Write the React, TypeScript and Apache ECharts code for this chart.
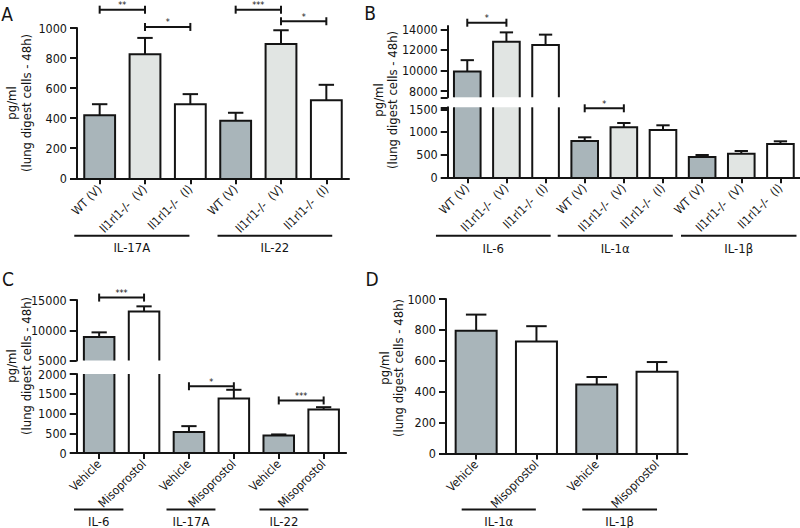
import React, { useEffect, useRef } from 'react';
import * as echarts from 'echarts';

const FONT = "'Liberation Sans Narrow', 'Arial Narrow', 'DejaVu Sans Condensed', 'Liberation Sans', Arial, sans-serif";
const INK = '#141414';
const DARK = '#a9b5ba';
const LIGHT = '#e1e5e3';
const WHITE = '#ffffff';

// ---------- DATA ----------
const genotypeCats = ['WT (V)', 'Il1rl1-/-  (V)', 'Il1rl1-/-  (I)'];
const treatCats = ['Vehicle', 'Misoprostol'];

// Panel A
const aCategories = [...genotypeCats, ...genotypeCats];
const aValues = [420, 825, 493, 383, 894, 520];
const aErrors = [493, 934, 560, 436, 985, 622];
const aTicks = [0, 200, 400, 600, 800, 1000];
const aBrackets = [[0, 1, 1122], [1, 2, 1007], [3, 4, 1122], [4, 5, 1045]];
const aStars = ['**', '*', '***', '*'];
const aGroups = ['IL-17A', 'IL-22'];

// Panel B
const bCategories = [...genotypeCats, ...genotypeCats, ...genotypeCats];
const bValues = [9900, 12800, 12480, 801, 1103, 1043, 448, 521, 735];
const bErrors = [11000, 13700, 13480, 882, 1198, 1147, 492, 580, 794];
const bUpperTicks = [8000, 10000, 12000, 14000];
const bLowerTicks = [0, 500, 1000, 1500];
const bBrackets = [[0, 1, 14640], [3, 4, 1522]];
const bStars = ['*', '*'];
const bGroups = ['IL-6', 'IL-1α', 'IL-1β'];

// Panel C
const cCategories = [...treatCats, ...treatCats, ...treatCats];
const cValues = [8900, 13100, 530, 1380, 440, 1100];
const cErrors = [9650, 13950, 680, 1600, 470, 1160];
const cUpperTicks = [5000, 10000, 15000];
const cLowerTicks = [0, 500, 1000, 1500, 2000];
const cBrackets = [[0, 1, 15400], [2, 3, 1690], [4, 5, 1330]];
const cStars = ['***', '*', '***'];
const cGroups = ['IL-6', 'IL-17A', 'IL-22'];

// Panel D
const dCategories = [...treatCats, ...treatCats];
const dValues = [795, 725, 447, 529];
const dErrors = [899, 824, 495, 592];
const dTicks = [0, 200, 400, 600, 800, 1000];
const dGroups = ['IL-1α', 'IL-1β'];

// ---------- LAYOUT / STYLE ----------
const genotypeFill = [DARK, LIGHT, WHITE];
const treatFill = [DARK, WHITE];
const BAR_RATIO = 0.68;
const CAP_RATIO = 0.17;

type Seg = { top: number; height: number; min: number; max: number; ticks: number[]; labels: number[] };
type Panel = {
  left: number; width: number; cats: string[]; fills: string[];
  vals: number[]; errs: number[]; segs: Seg[];
  brackets: number[][]; stars: string[];
  groups: string[]; groupSpans: number[][]; groupLineOff: number; groupTextOff: number;
};

const panels: Panel[] = [
  {
    left: 77, width: 272, cats: aCategories,
    fills: aCategories.map((_, i) => genotypeFill[i % 3]),
    vals: aValues, errs: aErrors,
    segs: [{ top: 28, height: 150.3, min: 0, max: 1000, ticks: aTicks, labels: aTicks }],
    brackets: aBrackets, stars: aStars,
    groups: aGroups, groupSpans: [[-0.56, 1.98], [2.6, 5.13]], groupLineOff: 57.5, groupTextOff: 69.5,
  },
  {
    left: 447.7, width: 352.3, cats: bCategories,
    fills: bCategories.map((_, i) => genotypeFill[i % 3]),
    vals: bValues, errs: bErrors,
    segs: [
      { top: 26, height: 71.3, min: 7390, max: 14320, ticks: [7390, ...bUpperTicks], labels: bUpperTicks },
      { top: 107.3, height: 70, min: 0, max: 1544, ticks: [...bLowerTicks, 1544], labels: bLowerTicks },
    ],
    brackets: bBrackets, stars: bStars,
    groups: bGroups, groupSpans: [[-0.8, 2.13], [2.31, 5.25], [5.46, 8.41]], groupLineOff: 58.5, groupTextOff: 71,
  },
  {
    left: 76.7, width: 269.4, cats: cCategories,
    fills: cCategories.map((_, i) => treatFill[i % 2]),
    vals: cValues, errs: cErrors,
    segs: [
      { top: 300, height: 60.5, min: 5000, max: 15000, ticks: cUpperTicks, labels: cUpperTicks },
      { top: 374, height: 79, min: 0, max: 2000, ticks: cLowerTicks, labels: cLowerTicks },
    ],
    brackets: cBrackets, stars: cStars,
    groups: cGroups, groupSpans: [[-0.56, 0.54], [1.5, 2.59], [3.57, 4.66]], groupLineOff: 56.5, groupTextOff: 68,
  },
  {
    left: 446, width: 241.2, cats: dCategories,
    fills: dCategories.map((_, i) => treatFill[i % 2]),
    vals: dValues, errs: dErrors,
    segs: [{ top: 299, height: 154.5, min: 0, max: 1000, ticks: dTicks, labels: dTicks }],
    brackets: [], stars: [],
    groups: dGroups, groupSpans: [[-0.24, 0.99], [1.76, 3.0]], groupLineOff: 56, groupTextOff: 67.5,
  },
];

const lineStyle = { stroke: INK, lineWidth: 2, fill: 'none' };

function buildOption() {
  const grids: any[] = [];
  const xAxes: any[] = [];
  const yAxes: any[] = [];
  const series: any[] = [];

  panels.forEach((p) => {
    const last = p.segs.length - 1;
    const segOf = (v: number) => p.segs.findIndex((s) => v >= s.min);
    p.segs.forEach((s, si) => {
      const gi = grids.length;
      const bottom = si === last;
      grids.push({ left: p.left, top: s.top, width: p.width, height: s.height });
      xAxes.push(bottom ? {
        type: 'category', gridIndex: gi, data: p.cats, z: 5,
        axisLine: { show: true, lineStyle: { color: INK, width: 2 } },
        axisTick: { show: true, alignWithLabel: true, length: 6, lineStyle: { color: INK, width: 2 } },
        axisLabel: { rotate: 45, interval: 0, fontSize: 12, color: INK, fontFamily: FONT, margin: 9 },
      } : { type: 'category', gridIndex: gi, data: p.cats, show: false });
      yAxes.push({
        type: 'value', gridIndex: gi, min: s.min, max: s.max, z: 5,
        axisLine: { show: true, lineStyle: { color: INK, width: 2 } },
        axisTick: { show: true, length: 7, lineStyle: { color: INK, width: 2 }, customValues: s.ticks },
        axisLabel: {
          fontSize: 12.5, color: INK, fontFamily: FONT, margin: 10, customValues: s.labels,
          formatter: (v: number) => String(v),
        },
        splitLine: { show: false },
      });

      // bars (clipped to this segment)
      series.push({
        type: 'custom', xAxisIndex: gi, yAxisIndex: gi, z: 2,
        encode: { x: 0, y: 1 },
        data: p.vals.map((v, i) => [i, v]),
        renderItem: (params: any, api: any) => {
          const i = api.value(0);
          const v = api.value(1);
          const cs = params.coordSys;
          const band = api.size([1, 0])[0];
          const w = band * BAR_RATIO;
          const pt = api.coord([i, v]);
          const y0 = api.coord([i, 0])[1];
          const gTop = cs.y;
          const gBot = cs.y + cs.height;
          const cutTop = pt[1] < gTop - 0.01;
          const yt = Math.max(pt[1], gTop);
          const yb = Math.min(y0, gBot);
          if (yt >= yb) return null;
          const x0 = pt[0] - w / 2;
          const x1 = pt[0] + w / 2;
          const children: any[] = [
            { type: 'rect', shape: { x: x0, y: yt, width: w, height: yb - yt }, style: { fill: p.fills[i], stroke: 'none' } },
          ];
          if (cutTop) {
            children.push({ type: 'line', shape: { x1: x0, y1: yt, x2: x0, y2: yb }, style: lineStyle });
            children.push({ type: 'line', shape: { x1: x1, y1: yt, x2: x1, y2: yb }, style: lineStyle });
          } else {
            children.push({
              type: 'polyline',
              shape: { points: [[x0, yb], [x0, yt], [x1, yt], [x1, yb]] },
              style: { ...lineStyle, lineJoin: 'miter' },
            });
          }
          return { type: 'group', children };
        },
      });

      // error bars (upper only)
      series.push({
        type: 'custom', xAxisIndex: gi, yAxisIndex: gi, z: 3,
        encode: { x: 0, y: 1 },
        data: p.errs.map((e, i) => [i, e, p.vals[i]]).filter((d) => segOf(d[1]) === si),
        renderItem: (params: any, api: any) => {
          const i = api.value(0);
          const band = api.size([1, 0])[0];
          const cap = band * CAP_RATIO;
          const top = api.coord([i, api.value(1)]);
          const cs = params.coordSys;
          const yv = Math.min(api.coord([i, api.value(2)])[1], cs.y + cs.height);
          return {
            type: 'group',
            children: [
              { type: 'line', shape: { x1: top[0], y1: yv, x2: top[0], y2: top[1] }, style: lineStyle },
              { type: 'line', shape: { x1: top[0] - cap, y1: top[1], x2: top[0] + cap, y2: top[1] }, style: lineStyle },
            ],
          };
        },
      });

      // significance brackets
      const br = p.brackets.map((b, k) => [b[0], b[2], b[1], k]).filter((d) => segOf(d[1]) === si);
      if (br.length) {
        series.push({
          type: 'custom', xAxisIndex: gi, yAxisIndex: gi, z: 4,
          encode: { x: 0, y: 1 },
          data: br,
          renderItem: (params: any, api: any) => {
            const a = api.coord([api.value(0), api.value(1)]);
            const b = api.coord([api.value(2), api.value(1)]);
            const label = p.stars[api.value(3)];
            return {
              type: 'group',
              children: [
                { type: 'line', shape: { x1: a[0], y1: a[1], x2: b[0], y2: b[1] }, style: lineStyle },
                { type: 'line', shape: { x1: a[0], y1: a[1] - 4, x2: a[0], y2: a[1] + 4 }, style: lineStyle },
                { type: 'line', shape: { x1: b[0], y1: b[1] - 4, x2: b[0], y2: b[1] + 4 }, style: lineStyle },
                {
                  type: 'text',
                  style: {
                    text: label, x: (a[0] + b[0]) / 2, y: a[1] - 4.5,
                    align: 'center', verticalAlign: 'middle', textAlign: 'center', textVerticalAlign: 'middle',
                    fontSize: 9, fontFamily: FONT, fill: INK,
                  },
                },
              ],
            };
          },
        });
      }

      // group lines + names under the x axis
      if (bottom) {
        series.push({
          type: 'custom', xAxisIndex: gi, yAxisIndex: gi, z: 4,
          encode: { x: 0, y: 1 },
          data: p.groups.map((_, k) => [0, s.min, p.groupSpans[k][0], p.groupSpans[k][1], k]),
          renderItem: (params: any, api: any) => {
            const base = api.coord([0, api.value(1)]);
            const band = api.size([1, 0])[0];
            const xa = base[0] + api.value(2) * band;
            const xb = base[0] + api.value(3) * band;
            const y = base[1] + p.groupLineOff;
            return {
              type: 'group',
              children: [
                { type: 'line', shape: { x1: xa, y1: y, x2: xb, y2: y }, style: lineStyle },
                {
                  type: 'text',
                  style: {
                    text: p.groups[api.value(4)], x: (xa + xb) / 2, y: base[1] + p.groupTextOff,
                    align: 'center', verticalAlign: 'middle', textAlign: 'center', textVerticalAlign: 'middle',
                    fontSize: 13, fontFamily: FONT, fill: INK,
                  },
                },
              ],
            };
          },
        });
      }
    });
  });

  const txt = (text: string, x: number, y: number, size: number, rot = 0) => ({
    type: 'text', x, y, rotation: rot, silent: true,
    style: {
      text, fontSize: size, fontFamily: FONT, fill: INK,
      align: 'center', verticalAlign: 'middle', textAlign: 'center', textVerticalAlign: 'middle',
    },
  });
  const R = Math.PI / 2;
  const graphic = [
    txt('A', 7, 14, 19), txt('B', 370, 13, 19), txt('C', 8, 279, 19), txt('D', 372, 279, 19),
    txt('pg/ml', 11, 103, 13, R), txt('(lung digest cells - 48h)', 26, 103, 13, R),
    txt('pg/ml', 378, 100, 13, R), txt('(lung digest cells - 48h)', 392, 100, 13, R),
    txt('pg/ml', 11, 366, 13, R), txt('(lung digest cells - 48h)', 26, 366, 13, R),
    txt('pg/ml', 384, 368, 13, R), txt('(lung digest cells - 48h)', 398, 368, 13, R),
  ];

  return {
    animation: false,
    backgroundColor: '#ffffff',
    textStyle: { fontFamily: FONT },
    grid: grids,
    xAxis: xAxes,
    yAxis: yAxes,
    series,
    graphic,
  };
}

export default function App() {
  const ref = useRef<HTMLDivElement>(null);
  useEffect(() => {
    if (!ref.current) return;
    const chart = echarts.init(ref.current, undefined, { renderer: 'svg' });
    chart.setOption(buildOption() as any);
    return () => chart.dispose();
  }, []);
  return (
    <div
      ref={ref}
      style={{ position: 'absolute', left: 0, top: 0, width: 800, height: 528, background: '#fff' }}
    />
  );
}
